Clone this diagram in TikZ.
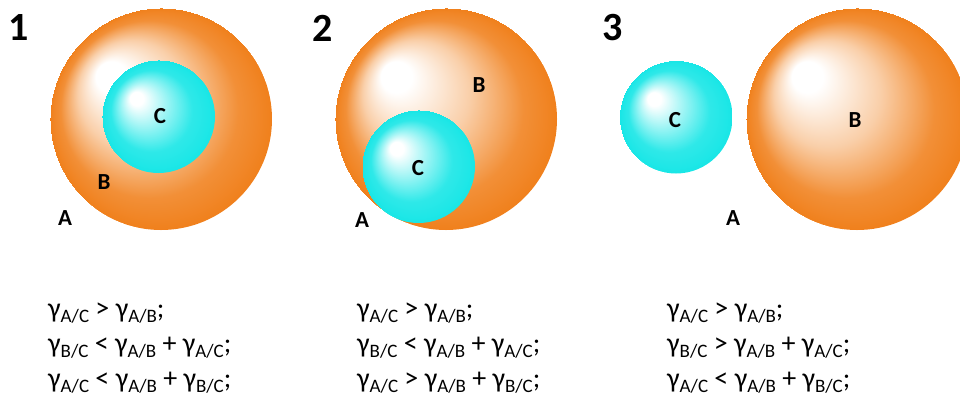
\documentclass[tikz,border=0pt]{standalone}
\usepackage{fontspec}
\setmainfont{Carlito}
\definecolor{orB}{RGB}{240,128,28}
\definecolor{cyB}{RGB}{24,230,230}
\pgfdeclareradialshading{orangeball}{\pgfpoint{-13bp}{11bp}}{color(0bp)=(white); color(3.5bp)=(white); color(12bp)=(orB!38!white); color(20bp)=(orB!88!white); color(25bp)=(orB)}
\pgfdeclareradialshading{cyanball}{\pgfpoint{-11bp}{9bp}}{color(0bp)=(white); color(3bp)=(white); color(11bp)=(cyB!48!white); color(18bp)=(cyB!90!white); color(25bp)=(cyB)}
\newcommand{\gs}[1]{γ\raisebox{-0.32ex}{\fontsize{19}{19}\selectfont #1}}
\tikzset{
  obig/.style={circle, shading=orangeball, minimum size=222pt, inner sep=0},
  csmall/.style={circle, shading=cyanball, minimum size=113pt, inner sep=0},
  lbl/.style={font=\bfseries\fontsize{23}{23}\selectfont, inner sep=0},
  num/.style={font=\bfseries\fontsize{40}{40}\selectfont, inner sep=0},
  formula/.style={anchor=north west, align=left, font=\fontsize{28}{35}\selectfont, inner sep=0}
}
\begin{document}
\begin{tikzpicture}[x=1pt,y=-1pt]
\useasboundingbox (0,0) rectangle (960,408);
% panel 1
\node[obig] (b1) at (161,119) {};
\node[csmall] (c1) at (158.5,116.5) {};
\node[num] (n1) at (19,28) {1};
\node[lbl] (lc1) at (160,116) {C};
\node[lbl] (lb1) at (104,182) {B};
\node[lbl] (la1) at (65,218) {A};
% panel 2
\node[obig] (b2) at (446,119) {};
\node[csmall] (c2) at (418.5,166.5) {};
\node[num] (n2) at (323,28) {2};
\node[lbl] (lb2) at (479,85) {B};
\node[lbl] (lc2) at (418,168) {C};
\node[lbl] (la2) at (362,220) {A};
% panel 3
\node[csmall] (c3) at (676,117) {};
\node[obig] (b3) at (857,119) {};
\node[num] (n3) at (613,28) {3};
\node[lbl] (lc3) at (675,120) {C};
\node[lbl] (lb3) at (855,120) {B};
\node[lbl] (la3) at (733,218) {A};
% formulas
\node[formula] (f1) at (48,303) {\gs{A/C} > \gs{A/B};\\ \gs{B/C} < \gs{A/B} + \gs{A/C};\\ \gs{A/C} < \gs{A/B} + \gs{B/C};};
\node[formula] (f2) at (357,303) {\gs{A/C} > \gs{A/B};\\ \gs{B/C} < \gs{A/B} + \gs{A/C};\\ \gs{A/C} > \gs{A/B} + \gs{B/C};};
\node[formula] (f3) at (667,303) {\gs{A/C} > \gs{A/B};\\ \gs{B/C} > \gs{A/B} + \gs{A/C};\\ \gs{A/C} < \gs{A/B} + \gs{B/C};};
\end{tikzpicture}
\end{document}
